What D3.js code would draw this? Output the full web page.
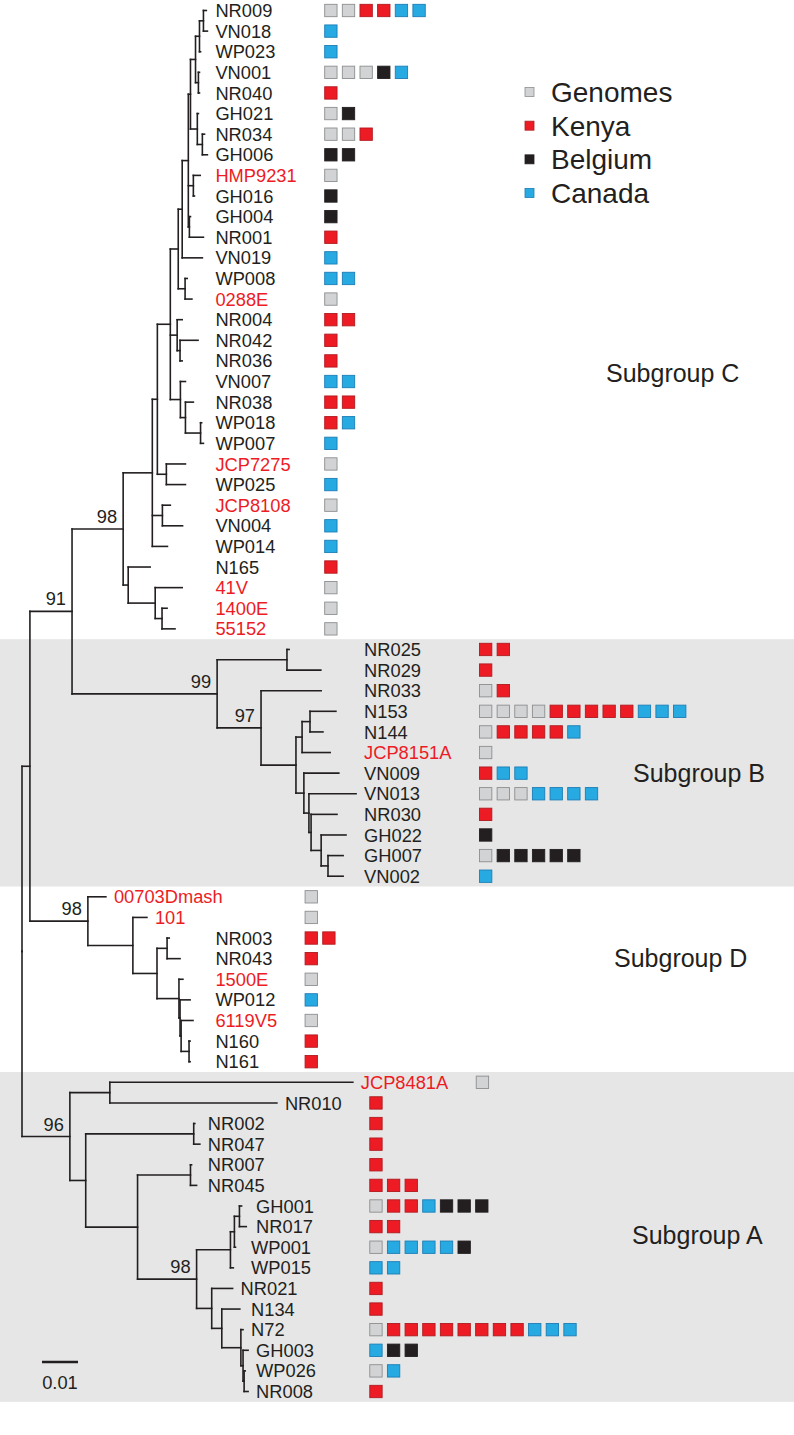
<!DOCTYPE html>
<html>
<head>
<meta charset="utf-8">
<script src="https://cdn.jsdelivr.net/npm/d3@7"></script>
<style>
  body { margin: 0; background: #fff; }
  svg text { font-family: "Liberation Sans", Arial, sans-serif; }
</style>
</head>
<body>
<svg id="chart" width="794" height="1435"></svg>
<script>
// ---------------- DATA ----------------
// Tree topology + branch lengths (substitutions/site), one Newick per subgroup
const newickC = "((((((((((((NR009:0.0008,VN018:0.0011)C24:0.0011,WP023:0.0003)C23:0.0011,(VN001:0.0003,NR040:0.0003)C25:0.0008)C20:0.0014,(GH021:0.0003,(NR034:0.0006,GH006:0.0014)C22:0.0014)C21:0.0019)C17:0.0006,(HMP9231:0.0019,GH016:0.0003)C18:0.0014,(GH004:0.0003,NR001:0.0039)C19:0.0003)C16:0.0017,VN019:0.0056)C14:0.0011,(WP008:0.0006,0288E:0.0019)C15:0.0019)C11:0.0022,(NR004:0.0014,(NR042:0.0050,NR036:0.0006)C12a:0.0008)C12:0.0019,(VN007:0.0014,(NR038:0.0022,(WP018:0.0003,WP007:0.0008)C13b:0.0042)C13a:0.0014)C13:0.0028)C9:0.0036,(JCP7275:0.0053,WP025:0.0053)C8:0.0025)C5:0.0014,(JCP8108:0.0022,VN004:0.0056)C6:0.0028,WP014:0.0042)C1:0.0081,(N165:0.0061,(41V:0.0075,(1400E:0.0014,55152:0.0036)C4:0.0019)C3:0.0075)C2:0.0014)C:0.0142";
const newickB = "((NR025:0.0006,NR029:0.0094)B1:0.0194,(NR033:0.0167,(((N153:0.0072,N144:0.0036)N:0.0022,JCP8151A:0.0078)M:0.0017,(VN009:0.0097,(VN013:0.0131,(NR030:0.0072,(GH022:0.0069,(GH007:0.0042,VN002:0.0042)L4:0.0019)L3:0.0028)L2:0.0006)L:0.0014)K:0.0022)B3:0.0097)B2:0.0122)B:0.0403";
const newickD = "(00703Dmash:0.0050,(101:0.0039,((NR003:0.0006,NR043:0.0036)D3:0.0028,(1500E:0.0011,(WP012:0.0028,(6119V5:0.0033,(N160:0.0003,N161:0.0003)D8:0.0022)D6:0.0003)D5:0.0003)D4:0.0061)D2:0.0067)D1:0.0125)D:0.0161";
const newickA = "((JCP8481A:0.0675,NR010:0.0464)A1:0.0111,((NR002:0.0003,NR047:0.0017)A3:0.0300,((NR007:0.0003,NR045:0.0017)A5:0.0147,((((GH001:0.0006,NR017:0.0019)A9:0.0014,WP001:0.0003)A8:0.0011,WP015:0.0008)A7:0.0094,(NR021:0.0058,(N134:0.0050,(N72:0.0006,(GH003:0.0014,(WP026:0.0003,NR008:0.0011)A14:0.0003)A13:0.0006)A12:0.0053)A11:0.0028)A10:0.0042)A6:0.0164)A4:0.0144)A2:0.0044)A:0.0133";
const backbone = "((({C},{B})CB:0.0117,{D})X:0.0022,{A})root;";

// Isolate sources per leaf (G = Genomes, K = Kenya, B = Belgium, C = Canada)
const leavesC = ["NR009","VN018","WP023","VN001","NR040","GH021","NR034","GH006","HMP9231","GH016","GH004","NR001","VN019","WP008","0288E","NR004","NR042","NR036","VN007","NR038","WP018","WP007","JCP7275","WP025","JCP8108","VN004","WP014","N165","41V","1400E","55152"];
const isolatesC = ["GGKKCC","C","C","GGGBC","K","GB","GGK","BB","G","B","B","K","C","CC","G","KK","K","K","CC","KK","KC","C","G","C","G","C","C","K","G","G","G"];
const leavesB = ["NR025","NR029","NR033","N153","N144","JCP8151A","VN009","VN013","NR030","GH022","GH007","VN002"];
const isolatesB = ["KK","K","GK","GGGGKKKKKCCC","GKKKKC","G","KCC","GGGCCCC","K","B","GBBBBB","C"];
const leavesD = ["00703Dmash","101","NR003","NR043","1500E","WP012","6119V5","N160","N161"];
const isolatesD = ["G","G","KK","K","G","C","G","K","K"];
const leavesA = ["JCP8481A","NR010","NR002","NR047","NR007","NR045","GH001","NR017","WP001","WP015","NR021","N134","N72","GH003","WP026","NR008"];
const isolatesA = ["G","K","K","K","K","KKK","GKKCBBB","KK","GCCCCB","CC","K","K","GKKKKKKKKCCC","CBB","GC","K"];

const referenceGenomes = ["HMP9231","0288E","JCP7275","JCP8108","41V","1400E","55152","JCP8151A","00703Dmash","101","1500E","6119V5","JCP8481A"];

const bootstrapNodes = ["CB","C","B","B2","D","A","A6"];
const bootstrapValues = [91, 98, 99, 97, 98, 96, 98];

const sources = ["Genomes","Kenya","Belgium","Canada"];
const sourceCodes = ["G","K","B","C"];

const subgroupNames = ["Subgroup C","Subgroup B","Subgroup D","Subgroup A"];
const shadedSubgroups = ["B","A"];

const scaleBarValue = 0.01;

// label alignment (structural): leaves of these clades share a label column
const labelAlignGroups = [["C","D2"],["B"],["A3","A5"],["A9","A13"],["WP001","WP015","N134","N72"]];
// square columns shared by leaves of these clades
const squareGroups = [["C"],["B"],["D"],["NR010","A2"],["JCP8481A"]];

// ---------------- PARSE ----------------
function parseNewick(s) {
  let i = 0;
  function node() {
    const n = { children: [] };
    if (s[i] === "(") {
      i++;
      n.children.push(node());
      while (s[i] === ",") { i++; n.children.push(node()); }
      i++;
    }
    let name = "";
    while (i < s.length && !":,);".includes(s[i])) name += s[i++];
    n.name = name;
    n.length = 0;
    if (s[i] === ":") {
      i++;
      let num = "";
      while (i < s.length && !",);".includes(s[i])) num += s[i++];
      n.length = +num;
    }
    if (!n.children.length) delete n.children;
    return n;
  }
  return node();
}

const fullNewick = backbone.replace("{C}", newickC).replace("{B}", newickB).replace("{D}", newickD).replace("{A}", newickA);
const root = d3.hierarchy(parseNewick(fullNewick));
const byName = new Map(root.descendants().map(d => [d.data.name, d]));

const isolateMap = new Map();
[[leavesC, isolatesC],[leavesB, isolatesB],[leavesD, isolatesD],[leavesA, isolatesA]].forEach(([ls, is]) => ls.forEach((n, k) => isolateMap.set(n, is[k])));

// ---------------- SCALES ----------------
const xScale = d3.scaleLinear().domain([0, 0.01]).range([22, 58]);
const leafNames = root.leaves().map(d => d.data.name);
const yScale = d3.scalePoint().domain(leafNames).range([10.5, 1391.5]);
const step = yScale.step();

root.each(n => { n.dist = n.parent ? n.parent.dist + n.data.length : 0; n.x = xScale(n.dist); });
root.eachAfter(n => {
  if (n.children) n.y = (n.children[0].y + n.children[n.children.length - 1].y) / 2;
  else n.y = yScale(n.data.name);
});

const colorFill = d3.scaleOrdinal(sourceCodes, ["#d1d3d4", "#ed1c24", "#231f20", "#27aae1"]);
const colorStroke = d3.scaleOrdinal(sourceCodes, ["#8c8e90", "#b01a20", "#231f20", "#1c7db5"]);

const svg = d3.select("#chart");
const ink = "#231f20";
const red = "#ed1c24";
const labelSize = 18.3;

// ---------------- BANDS ----------------
svg.append("g").selectAll("rect").data(shadedSubgroups).join("rect")
  .attr("x", 0).attr("width", 794)
  .attr("y", d => d3.min(byName.get(d).leaves(), l => l.y) - step / 2)
  .attr("height", d => {
    const ls = byName.get(d).leaves();
    return d3.max(ls, l => l.y) - d3.min(ls, l => l.y) + step;
  })
  .attr("fill", "#e6e6e6");

// ---------------- TREE ----------------
const gTree = svg.append("g").attr("stroke", ink).attr("stroke-width", 1.6).attr("stroke-linecap", "square");
gTree.selectAll("line.h").data(root.descendants().filter(d => d.parent)).join("line")
  .attr("class", "h")
  .attr("x1", d => d.parent.x).attr("x2", d => d.x)
  .attr("y1", d => d.y).attr("y2", d => d.y);
gTree.selectAll("line.v").data(root.descendants().filter(d => d.children)).join("line")
  .attr("class", "v")
  .attr("x1", d => d.x).attr("x2", d => d.x)
  .attr("y1", d => d.children[0].y).attr("y2", d => d.children[d.children.length - 1].y);

// bootstrap values
svg.append("g").selectAll("text").data(bootstrapNodes).join("text")
  .attr("x", d => byName.get(d).x - 6)
  .attr("y", d => byName.get(d).y - 6)
  .attr("text-anchor", "end")
  .attr("font-size", labelSize)
  .attr("fill", ink)
  .text((d, k) => bootstrapValues[k]);

// ---------------- LABELS ----------------
const labelGap = 8;
const labelX = new Map();
root.leaves().forEach(l => labelX.set(l.data.name, l.x + labelGap));
labelAlignGroups.forEach(grp => {
  const ls = grp.flatMap(n => byName.get(n).leaves());
  const mx = d3.max(ls, l => l.x) + labelGap;
  ls.forEach(l => labelX.set(l.data.name, mx));
});

const labelEnd = new Map();
svg.append("g").selectAll("text").data(root.leaves()).join("text")
  .attr("x", d => labelX.get(d.data.name))
  .attr("y", d => d.y)
  .attr("dy", "0.36em")
  .attr("font-size", labelSize)
  .attr("fill", d => referenceGenomes.includes(d.data.name) ? red : ink)
  .text(d => d.data.name)
  .each(function(d) { labelEnd.set(d.data.name, labelX.get(d.data.name) + this.getComputedTextLength()); });

// ---------------- ISOLATE SQUARES ----------------
const squareGap = 28;
const squareCol = new Map();
squareGroups.forEach(grp => {
  const ls = grp.flatMap(n => byName.get(n).leaves());
  const mx = d3.max(ls, l => labelEnd.get(l.data.name)) + squareGap;
  ls.forEach(l => squareCol.set(l.data.name, mx));
});
const slot = d3.scaleBand().domain(d3.range(12)).range([0, 12 * 17.2]).paddingInner(0.3);
const sqData = [];
root.leaves().forEach(l => {
  const codes = (isolateMap.get(l.data.name) || "").split("");
  codes.forEach((c, k) => sqData.push({ leaf: l, code: c, k }));
});
svg.append("g").selectAll("rect").data(sqData).join("rect")
  .attr("x", d => squareCol.get(d.leaf.data.name) + slot(d.k))
  .attr("y", d => d.leaf.y - slot.bandwidth() / 2)
  .attr("width", slot.bandwidth())
  .attr("height", slot.bandwidth())
  .attr("fill", d => colorFill(d.code))
  .attr("stroke", d => colorStroke(d.code))
  .attr("stroke-width", 0.9);

// ---------------- LEGEND ----------------
const legendY = d3.scalePoint().domain(sources).range([92, 193]);
const gLeg = svg.append("g");
gLeg.selectAll("rect").data(sources).join("rect")
  .attr("x", 525).attr("y", d => legendY(d) - 4.5)
  .attr("width", 9).attr("height", 9)
  .attr("fill", (d, k) => colorFill(sourceCodes[k]))
  .attr("stroke", (d, k) => colorStroke(sourceCodes[k]))
  .attr("stroke-width", 0.8);
gLeg.selectAll("text").data(sources).join("text")
  .attr("x", 551).attr("y", d => legendY(d))
  .attr("dy", "0.36em")
  .attr("font-size", 28)
  .attr("fill", ink)
  .text(d => d);

// ---------------- SUBGROUP LABELS ----------------
const subgroupPos = [[606, 373], [633, 773], [614, 958], [632, 1235]];
svg.append("g").selectAll("text").data(subgroupNames).join("text")
  .attr("x", (d, k) => subgroupPos[k][0])
  .attr("y", (d, k) => subgroupPos[k][1])
  .attr("dy", "0.36em")
  .attr("font-size", 25)
  .attr("fill", ink)
  .text(d => d);

// ---------------- SCALE BAR ----------------
const sbX = 42 - xScale(0);
svg.append("line")
  .attr("x1", xScale(0) + sbX).attr("x2", xScale(scaleBarValue) + sbX)
  .attr("y1", 1362).attr("y2", 1362)
  .attr("stroke", ink).attr("stroke-width", 2.6);
svg.append("text")
  .attr("x", (xScale(0) + xScale(scaleBarValue)) / 2 + sbX)
  .attr("y", 1382).attr("dy", "0.36em")
  .attr("text-anchor", "middle")
  .attr("font-size", labelSize)
  .attr("fill", ink)
  .text(String(scaleBarValue));
</script>
</body>
</html>
